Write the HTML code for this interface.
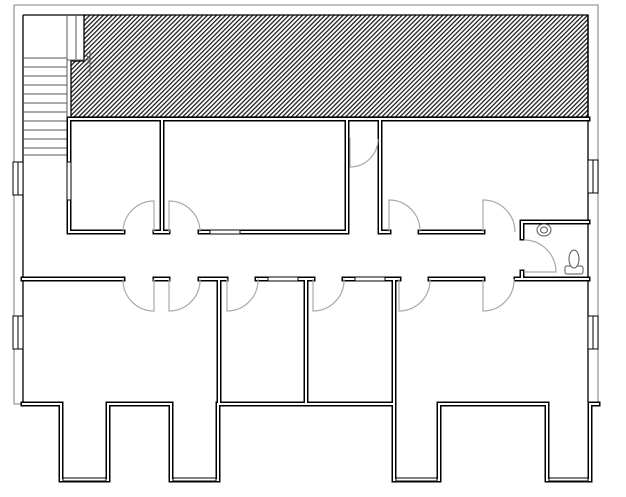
<!DOCTYPE html>
<html><head><meta charset="utf-8"><style>html,body{margin:0;padding:0;background:#fff}svg{display:block}</style></head>
<body>
<svg width="626" height="497" viewBox="0 0 626 497" xmlns="http://www.w3.org/2000/svg">
<defs>
<pattern id="h" width="3.2" height="3.2" patternUnits="userSpaceOnUse" patternTransform="rotate(45)">
<rect width="3.2" height="3.2" fill="#fff"/><rect width="1.3" height="3.2" fill="#222"/>
</pattern>
</defs>
<!-- exterior grey -->
<g stroke="#999" stroke-width="1.3" fill="none">
<path d="M14,5 H598 V404"/>
<path d="M14,5 V404 H23"/>
</g>
<!-- hatch -->
<path d="M84,15 H588 V117 H71 V61 H84 Z" fill="url(#h)" stroke="#000" stroke-width="1.3"/>
<!-- exterior black -->
<g stroke="#000" stroke-width="1.3" fill="none">
<line x1="23" y1="15" x2="84" y2="15"/>
<line x1="23" y1="15" x2="23" y2="402"/>
<line x1="588" y1="15" x2="588" y2="402"/>
</g>
<!-- stairs -->
<g stroke="#555" stroke-width="1" fill="none">
<line x1="23" y1="58" x2="67" y2="58"/><line x1="23" y1="67" x2="67" y2="67"/><line x1="23" y1="76" x2="67" y2="76"/>
<line x1="23" y1="85" x2="67" y2="85"/><line x1="23" y1="94" x2="67" y2="94"/><line x1="23" y1="103" x2="67" y2="103"/>
<line x1="23" y1="112" x2="67" y2="112"/><line x1="23" y1="121" x2="67" y2="121"/><line x1="23" y1="130" x2="67" y2="130"/>
<line x1="23" y1="139" x2="67" y2="139"/><line x1="23" y1="148" x2="67" y2="148"/><line x1="23" y1="155" x2="67" y2="155"/>
<line x1="67" y1="15" x2="67" y2="160"/><line x1="76" y1="15" x2="76" y2="59"/>
<path d="M67,60 H91 M86,55 L91,60 L86,65 M90,52 V76"/>
</g>
<!-- walls: double line -->
<g fill="none" stroke-linecap="square">
<g id="w" stroke="#000" stroke-width="5">
<path d="M69,119 H588"/>
<path d="M69,119 V232 H123 M155,232 H168 M200,232 H347 V119"/>
<path d="M162,119 V232"/>
<path d="M347,119 V232 M380,119 V232 H389 M420,232 H483"/>
<path d="M522,222 H588 M522,222 V238 M522,272 V279 H588"/>
<path d="M23,279 H123 M155,279 H168 M200,279 H226 M257,279 H313 M344,279 H399 M430,279 H483 M516,279 H588"/>
<path d="M219,279 V404 M306,279 V404 M394,279 V404"/>
<path d="M23,404 H61 V480 H108 V404 H171 V480 H218 V404 H394 V480 H439 V404 H547 V480 H590 V404 H598"/>
</g>
<g stroke="#fff" stroke-width="2">
<path d="M69,119 H588"/>
<path d="M69,119 V232 H123 M155,232 H168 M200,232 H347 V119"/>
<path d="M162,119 V232"/>
<path d="M347,119 V232 M380,119 V232 H389 M420,232 H483"/>
<path d="M522,222 H588 M522,222 V238 M522,272 V279 H588"/>
<path d="M23,279 H123 M155,279 H168 M200,279 H226 M257,279 H313 M344,279 H399 M430,279 H483 M516,279 H588"/>
<path d="M219,279 V404 M306,279 V404 M394,279 V404"/>
<path d="M23,404 H61 V480 H108 V404 H171 V480 H218 V404 H394 V480 H439 V404 H547 V480 H590 V404 H598"/>
</g>
</g>
<!-- windows -->
<g stroke="#000" stroke-width="1" fill="#fff">
<rect x="13" y="162" width="10" height="33"/><line x1="18" y1="162" x2="18" y2="195"/>
<rect x="13" y="316" width="10" height="33"/><line x1="18" y1="316" x2="18" y2="349"/>
<rect x="588" y="160" width="10" height="33"/><line x1="593" y1="160" x2="593" y2="193"/>
<rect x="588" y="316" width="10" height="33"/><line x1="593" y1="316" x2="593" y2="349"/>
<rect x="67" y="162" width="4" height="38"/>
<rect x="210" y="230" width="30" height="4"/>
<rect x="268" y="277" width="30" height="4"/>
<rect x="355" y="277" width="30" height="4"/>
<rect x="63" y="478" width="43" height="3"/><rect x="173" y="478" width="43" height="3"/>
<rect x="396" y="478" width="41" height="3"/><rect x="549" y="478" width="39" height="3"/>
</g>
<!-- doors -->
<g stroke="#aaa" stroke-width="1.2" fill="none">
<path d="M154,232 V201 A31,31 0 0 0 123,232"/>
<path d="M169,232 V201 A31,31 0 0 1 200,232"/>
<path d="M389,232 V200 A31,31 0 0 1 420,232"/>
<path d="M483,232 V200 A32,32 0 0 1 515,232"/>
<path d="M350,138 V167 A28,28 0 0 0 378,139"/>
<path d="M524,272 H556 A32,32 0 0 0 524,240"/>
<path d="M154,279 V311 A31,31 0 0 1 123,279"/>
<path d="M169,279 V311 A31,31 0 0 0 200,279"/>
<path d="M227,279 V311 A31,31 0 0 0 258,279"/>
<path d="M313,279 V311 A31,31 0 0 0 344,279"/>
<path d="M399,279 V311 A31,31 0 0 0 430,279"/>
<path d="M483,279 V311 A31,31 0 0 0 514,279"/>
</g>
<!-- fixtures -->
<g stroke="#555" stroke-width="1" fill="#fff">
<ellipse cx="544" cy="230" rx="7" ry="6"/><ellipse cx="544" cy="230" rx="3.5" ry="3"/>
<rect x="565" y="266" width="18" height="8" rx="2"/>
<ellipse cx="574" cy="259" rx="5" ry="9"/>
</g>
</svg>
</body></html>
